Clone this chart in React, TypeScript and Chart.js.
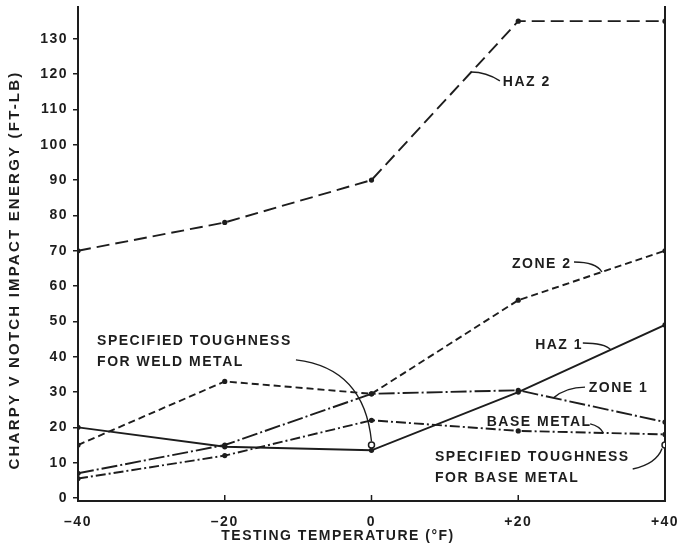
import React, { useEffect, useRef } from 'react';
import { Chart, registerables } from 'chart.js';

Chart.register(...registerables);

// Testing temperatures (°F) and Charpy V-notch energies (ft-lb)
const TEMPERATURES = [-40, -20, 0, 20, 40];
const HAZ_2 = [70, 78, 90, 135, 135];
const ZONE_2 = [15, 33, 29.5, 56, 70];
const HAZ_1 = [20, 14.5, 13.5, 30, 49];
const ZONE_1 = [7, 15, 29.5, 30.5, 21.5];
const BASE_METAL = [5.5, 12, 22, 19, 18];

// Specified minimum toughness points
const SPEC_WELD_TEMP = [0];
const SPEC_WELD = [15];
const SPEC_BASE_TEMP = [40];
const SPEC_BASE = [15];

const X_TICKS = [-40, -20, 0, 20, 40];
const Y_TICKS = [0, 10, 20, 30, 40, 50, 60, 70, 80, 90, 100, 110, 120, 130];

const X_TITLE = 'TESTING TEMPERATURE (°F)';
const Y_TITLE = 'CHARPY V NOTCH IMPACT ENERGY (FT-LB)';

const INK = '#1d1d1d';
const FONT_FAMILY = '"Liberation Sans", Arial, Helvetica, sans-serif';

// value of a series at temperature t (straight segments between tests)
function onSeries(values: number[], t: number): [number, number] {
  for (let i = 0; i < TEMPERATURES.length - 1; i++) {
    const a = TEMPERATURES[i];
    const b = TEMPERATURES[i + 1];
    if (t >= a && t <= b) {
      const f = (t - a) / (b - a);
      return [t, values[i] + (values[i + 1] - values[i]) * f];
    }
  }
  return [t, values[values.length - 1]];
}

type Callout = {
  lines: string[];
  at: [number, number];
  leader: { from: [number, number]; ctrl: [number, number]; to: [number, number] };
};

// Curve labels, placed in data units, each with a curved leader to its line
const CALLOUTS: Callout[] = [
  {
    lines: ['HAZ 2'],
    at: [17.9, 117.8],
    leader: { from: [17.5, 118.1], ctrl: [15.6, 120.6], to: onSeries(HAZ_2, 13.6) },
  },
  {
    lines: ['ZONE 2'],
    at: [19.15, 66.3],
    leader: { from: [27.6, 66.8], ctrl: [30.6, 66.8], to: onSeries(ZONE_2, 31.4) },
  },
  {
    lines: ['HAZ 1'],
    at: [22.3, 43.3],
    leader: { from: [28.8, 43.9], ctrl: [31.8, 43.9], to: onSeries(HAZ_1, 32.6) },
  },
  {
    lines: ['ZONE 1'],
    at: [29.6, 31.2],
    leader: { from: [29.1, 31.4], ctrl: [26.5, 31.4], to: onSeries(ZONE_1, 24.8) },
  },
  {
    lines: ['BASE METAL'],
    at: [15.7, 21.5],
    leader: { from: [29.8, 21.0], ctrl: [31.1, 20.4], to: onSeries(BASE_METAL, 31.6) },
  },
  {
    lines: ['SPECIFIED TOUGHNESS', 'FOR BASE METAL'],
    at: [8.65, 11.6],
    leader: { from: [35.6, 8.2], ctrl: [38.8, 9.6], to: [SPEC_BASE_TEMP[0] - 0.4, SPEC_BASE[0] - 1] },
  },
  {
    lines: ['SPECIFIED TOUGHNESS', 'FOR WELD METAL'],
    at: [-37.4, 44.5],
    leader: { from: [-10.3, 39.1], ctrl: [-1.0, 36.8], to: [SPEC_WELD_TEMP[0], SPEC_WELD[0] + 1] },
  },
];

const lineSeries = (label: string, values: number[], dash: number[]) => ({
  type: 'line' as const,
  label,
  data: TEMPERATURES.map((t, i) => ({ x: t, y: values[i] })),
  xAxisID: 'x',
  yAxisID: 'y',
  borderColor: INK,
  borderWidth: 1.9,
  borderDash: dash,
  borderCapStyle: 'butt' as const,
  pointRadius: 2.6,
  pointBackgroundColor: INK,
  pointBorderWidth: 0,
  tension: 0,
  fill: false,
});

const specPoint = (label: string, temps: number[], values: number[]) => ({
  type: 'line' as const,
  label,
  data: temps.map((t, i) => ({ x: t, y: values[i] })),
  xAxisID: 'x',
  yAxisID: 'y',
  showLine: false,
  pointRadius: 3,
  pointBackgroundColor: '#ffffff',
  pointBorderColor: INK,
  pointBorderWidth: 1.5,
});

const tickLabel = (v: number) => (v < 0 ? '–' + Math.abs(v) : v > 0 ? '+' + v : '0');

const decorations = {
  id: 'decorations',
  beforeDraw(chart: any) {
    chart.ctx.letterSpacing = '1.5px';
  },
  afterDraw(chart: any) {
    const ctx = chart.ctx as CanvasRenderingContext2D;
    const xs = chart.scales.x;
    const ys = chart.scales.y;
    const area = chart.chartArea;
    const px = (p: [number, number]) => [xs.getPixelForValue(p[0]), ys.getPixelForValue(p[1])];

    ctx.save();
    // short inward ticks on the temperature axis
    ctx.strokeStyle = INK;
    ctx.lineWidth = 1.5;
    X_TICKS.forEach((t) => {
      const x = xs.getPixelForValue(t);
      ctx.beginPath();
      ctx.moveTo(x, area.bottom - 6);
      ctx.lineTo(x, area.bottom);
      ctx.stroke();
    });

    // leaders
    ctx.lineWidth = 1.4;
    CALLOUTS.forEach((c) => {
      const [fx, fy] = px(c.leader.from);
      const [cx, cy] = px(c.leader.ctrl);
      const [tx, ty] = px(c.leader.to);
      ctx.beginPath();
      ctx.moveTo(fx, fy);
      ctx.quadraticCurveTo(cx, cy, tx, ty);
      ctx.stroke();
    });

    // callout text
    ctx.fillStyle = INK;
    ctx.font = `bold 14px ${FONT_FAMILY}`;
    ctx.letterSpacing = '1.5px';
    ctx.textAlign = 'left';
    ctx.textBaseline = 'middle';
    CALLOUTS.forEach((c) => {
      const [x, y] = px(c.at);
      c.lines.forEach((line, i) => ctx.fillText(line, x, y + i * 21.5));
    });

    // axis titles
    ctx.textAlign = 'center';
    ctx.fillText(X_TITLE, 338, 536);
    ctx.save();
    ctx.font = `bold 15px ${FONT_FAMILY}`;
    ctx.letterSpacing = '2.2px';
    ctx.translate(15, 270);
    ctx.rotate(-Math.PI / 2);
    ctx.fillText(Y_TITLE, 0, 0);
    ctx.restore();

    ctx.restore();
    ctx.letterSpacing = '0px';
  },
};

export default function App() {
  const canvasRef = useRef<HTMLCanvasElement | null>(null);

  useEffect(() => {
    const canvas = canvasRef.current;
    if (!canvas) return;
    const tickFont = { family: FONT_FAMILY, size: 14, weight: 'bold' as const };

    const chart = new Chart(canvas, {
      type: 'line',
      data: {
        datasets: [
          lineSeries('HAZ 2', HAZ_2, [13, 6]),
          lineSeries('ZONE 2', ZONE_2, [7, 4]),
          lineSeries('HAZ 1', HAZ_1, []),
          lineSeries('ZONE 1', ZONE_1, [16, 3, 2, 3]),
          lineSeries('BASE METAL', BASE_METAL, [10, 3, 2, 3]),
          specPoint('SPECIFIED TOUGHNESS FOR WELD METAL', SPEC_WELD_TEMP, SPEC_WELD),
          specPoint('SPECIFIED TOUGHNESS FOR BASE METAL', SPEC_BASE_TEMP, SPEC_BASE),
        ] as any,
      },
      options: {
        responsive: false,
        animation: false,
        events: [],
        layout: { padding: { top: 7, left: 0, right: 0, bottom: 0 } },
        plugins: { legend: { display: false }, tooltip: { enabled: false } },
        scales: {
          x: {
            type: 'linear',
            min: -40,
            max: 40,
            afterBuildTicks: (s: any) => {
              s.ticks = X_TICKS.map((v) => ({ value: v }));
            },
            afterFit: (s: any) => {
              s.height = 51;
              s.paddingLeft = 0;
              s.paddingRight = 0;
            },
            ticks: {
              callback: (v: any) => tickLabel(Number(v)),
              font: tickFont,
              color: INK,
              padding: 5,
              maxRotation: 0,
              autoSkip: false,
            },
            grid: { display: false },
            border: { display: true, color: INK, width: 2 },
          },
          y: {
            type: 'linear',
            position: 'left',
            min: -0.85,
            max: 139,
            afterBuildTicks: (s: any) => {
              s.ticks = Y_TICKS.map((v) => ({ value: v }));
            },
            afterFit: (s: any) => {
              s.width = 78;
              s.paddingTop = 0;
              s.paddingBottom = 0;
            },
            ticks: { font: tickFont, color: INK, padding: 5 },
            grid: {
              display: true,
              drawOnChartArea: false,
              drawTicks: true,
              tickLength: 5,
              color: INK,
              lineWidth: 1.5,
            },
            border: { display: true, color: INK, width: 2 },
          },
          yRight: {
            type: 'linear',
            position: 'right',
            min: -0.85,
            max: 139,
            afterFit: (s: any) => {
              s.width = 14;
              s.paddingTop = 0;
              s.paddingBottom = 0;
            },
            ticks: { display: false },
            grid: { display: false },
            border: { display: true, color: INK, width: 2 },
          },
        },
      } as any,
      plugins: [decorations],
    });

    return () => chart.destroy();
  }, []);

  return (
    <div style={{ position: 'absolute', left: 0, top: 0, width: 679, height: 552, background: '#ffffff' }}>
      <canvas ref={canvasRef} width={679} height={552} style={{ display: 'block', width: 679, height: 552 }} />
    </div>
  );
}
